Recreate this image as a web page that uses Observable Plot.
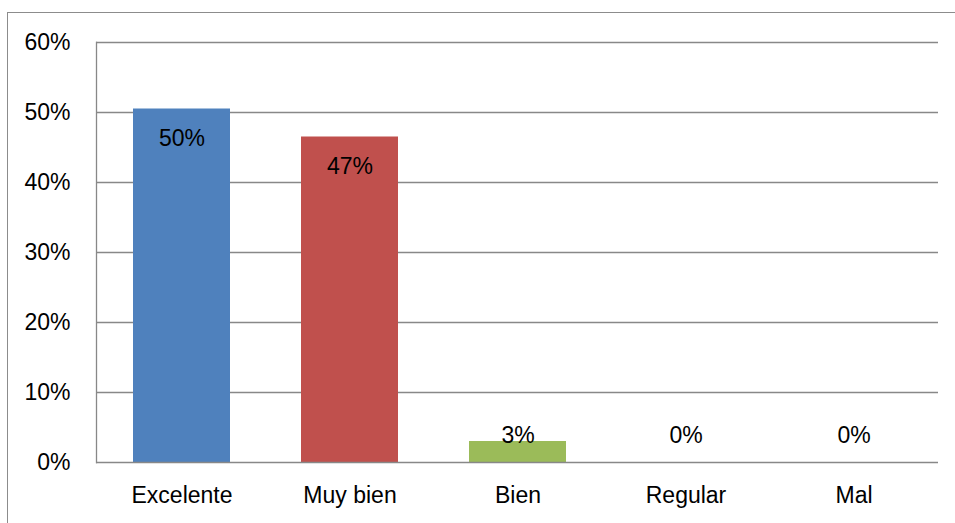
<!DOCTYPE html>
<html>
<head>
<meta charset="utf-8">
<script src="https://cdn.jsdelivr.net/npm/d3@7"></script>
<script src="https://cdn.jsdelivr.net/npm/@observablehq/plot@0.6"></script>
<style>
  html, body { margin: 0; padding: 0; background: #fff; overflow: hidden; }
  #wrap { position: relative; width: 955px; height: 523px; }
  #border { position: absolute; left: 7px; top: 12px; width: 1000px; height: 600px;
            border-left: 1px solid #8c8c8c; border-top: 1px solid #8c8c8c; pointer-events: none; }
  svg { font-family: "Liberation Sans", Arial, sans-serif; }
</style>
</head>
<body>
<div id="wrap"><div id="border"></div></div>
<script>
const categories = ["Excelente", "Muy bien", "Bien", "Regular", "Mal"];
const values = [0.505, 0.465, 0.03, 0, 0];
const labels = ["50%", "47%", "3%", "0%", "0%"];
const colors = ["#4F81BD", "#C0504D", "#9BBB59", "#8064A2", "#4BACC6"];
const yTicks = [0, 0.1, 0.2, 0.3, 0.4, 0.5, 0.6];

const data = categories.map((c, i) => ({cat: c, value: values[i], label: labels[i], color: colors[i]}));

const chart = Plot.plot({
  width: 955,
  height: 523,
  marginLeft: 96,
  marginRight: 17,
  marginTop: 42,
  marginBottom: 61,
  style: {fontSize: "23px", fontFamily: "'Liberation Sans', Arial, sans-serif", color: "#000", background: "transparent"},
  x: {domain: categories, paddingInner: 0.424, paddingOuter: 0.212, label: null, axis: null},
  y: {domain: [0, 0.6], label: null, axis: null},
  marks: [
    Plot.gridY(yTicks.filter(t => t > 0), {stroke: "#888", strokeOpacity: 1, strokeWidth: 1.3}),
    Plot.barY(data, {x: "cat", y: "value", fill: "color"}),
    Plot.ruleY([0], {stroke: "#888", strokeWidth: 1.3}),
    Plot.frame({anchor: "left", stroke: "#888", strokeWidth: 1.3}),
    Plot.axisY({ticks: yTicks, tickSize: 0, tickPadding: 26, tickFormat: d3.format(".0%"), fill: "#000", fontSize: 23}),
    Plot.axisX({tickSize: 0, tickPadding: 24, fill: "#000", fontSize: 23}),
    Plot.text(data, {x: "cat", y: d => Math.max(d.value, 0.0807), text: "label", dy: 30, fill: "#000", fontSize: 23, lineAnchor: "middle"})
  ]
});
document.getElementById("wrap").insertBefore(chart, document.getElementById("border"));
</script>
</body>
</html>
